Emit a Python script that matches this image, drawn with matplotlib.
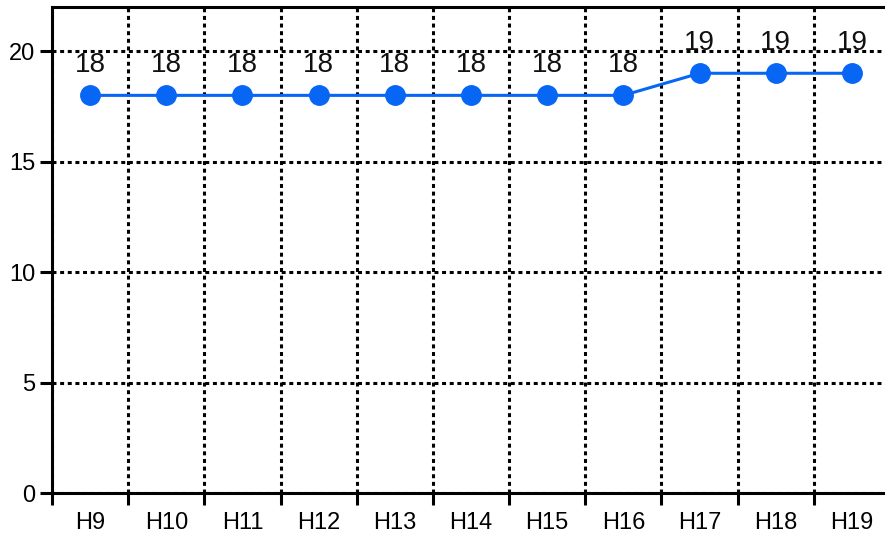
import numpy as np
import matplotlib.pyplot as plt

plt.rcParams['font.family'] = ['Liberation Sans', 'DejaVu Sans']

# data
hours = ['H9', 'H10', 'H11', 'H12', 'H13', 'H14', 'H15', 'H16', 'H17', 'H18', 'H19']
values = [18, 18, 18, 18, 18, 18, 18, 18, 19, 19, 19]
yticks = [0, 5, 10, 15, 20]

W, H = 885, 535
fig = plt.figure(figsize=(W / 100, H / 100), dpi=100)
# axes runs a little past the right edge, like the reference
ax = fig.add_axes([52 / W, 42 / H, 838 / W, 486 / H])

x = np.arange(len(hours))
blue = '#0866f5'
ax.plot(x, values, color=blue, lw=2.2, marker='o', markersize=14, zorder=3,
        clip_on=False)
for xi, v in zip(x, values):
    ax.annotate(str(v), (xi, v), xytext=(0, 17), textcoords='offset points',
                ha='center', va='baseline', fontsize=20, color='#111111')

ax.set_xlim(-0.5, len(hours) - 0.5)
ax.set_ylim(0, 22)

ax.set_xticks(x)
ax.set_xticklabels(hours)
ax.set_xticks(np.arange(len(hours)) - 0.5, minor=True)
ax.set_yticks(yticks)

ax.tick_params(axis='x', which='major', length=0, pad=14, labelsize=17)
ax.tick_params(axis='x', which='minor', length=8.5, width=2.2, direction='out')
ax.tick_params(axis='y', length=8.5, width=2.2, pad=3.5, labelsize=17)

dots = (0, (1.3, 1.2))
ax.grid(False)
ax.xaxis.grid(True, which='minor', color='black', lw=2.2, linestyle=dots)
ax.yaxis.grid(True, which='major', color='black', lw=2.2, linestyle=dots)
ax.set_axisbelow(True)

for s in ['left', 'bottom', 'top']:
    ax.spines[s].set_linewidth(2.2)
ax.spines['right'].set_visible(False)

fig.savefig('out.png', dpi=100)
